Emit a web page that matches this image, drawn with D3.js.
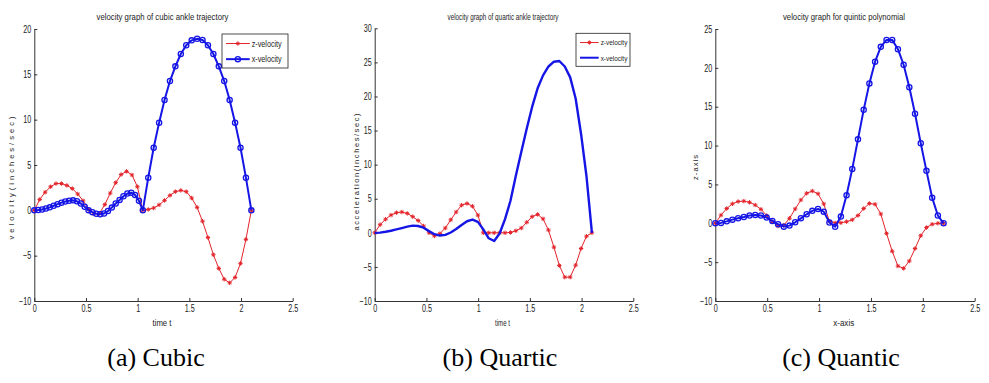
<!DOCTYPE html>
<html>
<head>
<meta charset="utf-8">
<script src="https://cdn.jsdelivr.net/npm/d3@7"></script>
<style>
  body { margin: 0; background: #fff; }
  svg { display: block; }
  .tick text { font-family: "Liberation Sans", sans-serif; font-size: 10px; fill: #222; }
  .lbl { font-family: "Liberation Sans", sans-serif; fill: #222; }
  .cap { font-family: "Liberation Serif", "Times New Roman", serif; font-size: 26px; fill: #000; }
</style>
</head>
<body>
<svg width="989" height="383"></svg>
<script>
"use strict";

// time grids
let tGrid21 = [0, 0.0525, 0.105, 0.1575, 0.21, 0.2625, 0.315, 0.3675, 0.42, 0.4725, 0.525, 0.5775, 0.63, 0.6825, 0.735, 0.7875, 0.84, 0.8925, 0.945, 0.9975, 1.05, 1.1025, 1.155, 1.2075, 1.26, 1.3125, 1.365, 1.4175, 1.47, 1.5225, 1.575, 1.6275, 1.68, 1.7325, 1.785, 1.8375, 1.89, 1.9425, 1.995, 2.0475, 2.1];
let tGrid22 = [0, 0.055, 0.11, 0.165, 0.22, 0.275, 0.33, 0.385, 0.44, 0.495, 0.55, 0.605, 0.66, 0.715, 0.77, 0.825, 0.88, 0.935, 0.99, 1.045, 1.1, 1.155, 1.21, 1.265, 1.32, 1.375, 1.43, 1.485, 1.54, 1.595, 1.65, 1.705, 1.76, 1.815, 1.87, 1.925, 1.98, 2.035, 2.09, 2.145, 2.2];
let tCubicX = [0, 0.0375, 0.075, 0.1125, 0.15, 0.1875, 0.225, 0.2625, 0.3, 0.3375, 0.375, 0.4125, 0.45, 0.4875, 0.525, 0.5625, 0.6, 0.6375, 0.675, 0.7125, 0.75, 0.7875, 0.825, 0.8625, 0.9, 0.9375, 0.975, 1.0125, 1.05, 1.1025, 1.155, 1.2075, 1.26, 1.3125, 1.365, 1.4175, 1.47, 1.5225, 1.575, 1.6275, 1.68, 1.7325, 1.785, 1.8375, 1.89, 1.9425, 1.995, 2.0475, 2.1];

// (a) cubic
let cubicZ = [0, 1.2, 2.0, 2.6, 2.95, 2.95, 2.75, 2.4, 1.8, 1.05, 0.1, -0.37, -0.33, 0.63, 1.9, 3.05, 3.95, 4.3, 3.9, 2.6, 0.0,
              0.1, 0.26, 0.6, 1.1, 1.65, 2.06, 2.2, 2.06, 1.36, 0.33, -1.2, -3.0, -4.9, -6.4, -7.6, -8.0, -7.4, -5.85, -3.2, 0];
let cubicX = [0, 0.04, 0.1, 0.2, 0.33, 0.5, 0.68, 0.85, 0.98, 1.06, 1.1, 1.0, 0.75, 0.4, 0.02, -0.2, -0.38, -0.44, -0.35, -0.08,
              0.3, 0.75, 1.15, 1.55, 1.85, 1.95, 1.7, 1.05, 0,
              3.6, 6.9, 9.67, 12.17, 14.26, 15.88, 17.24, 18.2, 18.75, 18.93, 18.79, 18.2, 17.24, 15.88, 14.26, 12.17, 9.67, 6.9, 3.6, 0];

// (b) quartic
let quarticZ = [0, 1.2, 2.0, 2.6, 2.95, 3.05, 2.85, 2.37, 1.8, 1.0, 0.0, -0.46, -0.12, 0.7, 1.9, 3.05, 4.06, 4.3, 3.9, 2.6, 0,
                0, 0, 0, 0, 0.05, 0.3, 0.7, 1.55, 2.37, 2.7, 2.05, 0.4, -2.1, -4.8, -6.5, -6.5, -4.75, -2.3, -0.5, 0];
let quarticX = [0, 0.03, 0.15, 0.3, 0.5, 0.7, 0.9, 1.05, 1.0, 0.75, 0.25, -0.2, -0.4, -0.3, 0.05, 0.55, 1.15, 1.7, 1.95, 1.6, 0.5,
                -0.8, -1.2, -0.1, 2.0, 4.7, 8.4, 11.9, 15.3, 18.5, 21.2, 23.1, 24.4, 25.1, 25.2, 24.4, 22.8, 19.7, 14.5, 8.3, 0];

// (c) quintic
let quinticZ = [0, 1.05, 1.9, 2.5, 2.8, 2.85, 2.7, 2.35, 1.8, 1.0, 0.2, -0.35, -0.25, 0.64, 1.85, 3.0, 3.86, 4.15, 3.8, 2.5, 0.25,
                0.05, 0.07, 0.2, 0.45, 1.0, 1.9, 2.55, 2.45, 1.2, -1.3, -3.6, -5.5, -5.8, -4.85, -3.25, -1.6, -0.55, -0.12, 0, 0];
let quinticX = [0, 0.05, 0.25, 0.47, 0.64, 0.8, 1.0, 1.07, 1.0, 0.73, 0.3, -0.13, -0.43, -0.3, 0.13, 0.64, 1.16, 1.6, 1.85, 1.5, 0.1,
                -0.45, 0.86, 3.6, 7.0, 10.8, 14.6, 18.0, 20.8, 22.7, 23.6, 23.6, 22.4, 20.4, 17.5, 14.1, 10.3, 6.75, 3.3, 1.0, 0];

let xTicks = [0, 0.5, 1, 1.5, 2, 2.5];
let yTicksA = [-10, -5, 0, 5, 10, 15, 20];
let yTicksB = [-10, -5, 0, 5, 10, 15, 20, 25, 30];
let yTicksC = [-10, -5, 0, 5, 10, 15, 20, 25];

let titles = ["velocity graph of cubic ankle trajectory", "velocity graph of quartic ankle trajectory", "velocity graph for quintic polynomial"];
let xLabels = ["time t", "time t", "x-axis"];
let yLabels = ["velocity(inches/sec)", "acceleration(inches/sec)", "z-axis"];
let captions = ["(a) Cubic", "(b) Quartic", "(c) Quantic"];
let legendNames = ["z-velocity", "x-velocity"];

let RED = "#e3242b", BLUE = "#1515e6";

let panels = [
    { l: 34.3, r: 292.7, t: 29, b: 301, yTicks: yTicksA, tz: tGrid21, z: cubicZ, tx: tCubicX, x: cubicX, circles: true,
      title: [162.5, 20, 132], xl: [162, 326, 19], yl: [11, 178, 123], cap: 156, legend: [222, 34, 66, 34, 9] },
    { l: 374.7, r: 633.3, t: 28.3, b: 301, yTicks: yTicksB, tz: tGrid21, z: quarticZ, tx: tGrid21, x: quarticX, circles: false,
      title: [503, 20, 111], xl: [502.5, 326, 15], yl: [356, 172, 117], cap: 500, legend: [576, 33.3, 54, 33, 8] },
    { l: 715.3, r: 974.7, t: 29, b: 301, yTicks: yTicksC, tz: tGrid22, z: quinticZ, tx: tGrid22, x: quinticX, circles: true,
      title: [844, 20, 122], xl: [843.7, 326, 21], yl: [695, 167.5, 25], cap: 841, legend: null }
];

let svg = d3.select("svg");
let star = "M-2.2,0H2.2M0,-2.2V2.2M-1.5,-1.5L1.5,1.5M-1.5,1.5L1.5,-1.5";

// squeeze the matlab-ish narrow labels
function narrow(sel, k) {
    sel.each(function () {
        let w = this.getComputedTextLength();
        d3.select(this).attr("textLength", w * k).attr("lengthAdjust", "spacingAndGlyphs");
    });
}

panels.forEach(function (p, k) {
    let g = svg.append("g");
    let x = d3.scaleLinear().domain([0, 2.5]).range([p.l, p.r]);
    let y = d3.scaleLinear().domain([p.yTicks[0], p.yTicks[p.yTicks.length - 1]]).range([p.b, p.t]);

    g.append("g").attr("transform", "translate(0," + p.b + ")")
        .call(d3.axisBottom(x).tickValues(xTicks).tickFormat(d3.format("")).tickSizeInner(-3).tickSizeOuter(0).tickPadding(4))
        .call(function (a) { a.select(".domain").attr("stroke", "#333"); a.selectAll("line").attr("stroke", "#333"); });
    g.append("g").attr("transform", "translate(" + p.l + ",0)")
        .call(d3.axisLeft(y).tickValues(p.yTicks).tickFormat(d3.format("")).tickSizeInner(-3).tickSizeOuter(0).tickPadding(3))
        .call(function (a) { a.select(".domain").attr("stroke", "#333"); a.selectAll("line").attr("stroke", "#333"); });
    g.selectAll(".tick text").attr("font-family", null).attr("font-size", null);
    narrow(g.selectAll(".tick text"), 0.72);

    let zData = p.tz.map(function (t, i) { return [t, p.z[i]]; });
    let xData = p.tx.map(function (t, i) { return [t, p.x[i]]; });
    let line = d3.line().x(function (d) { return x(d[0]); }).y(function (d) { return y(d[1]); });

    g.append("path").datum(zData).attr("d", line).attr("fill", "none").attr("stroke", RED).attr("stroke-width", 1);
    g.selectAll(".zm").data(zData).enter().append("path").attr("class", "zm")
        .attr("transform", function (d) { return "translate(" + x(d[0]) + "," + y(d[1]) + ")"; })
        .attr("d", star).attr("stroke", RED).attr("stroke-width", 1).attr("fill", "none");

    g.append("path").datum(xData).attr("d", line).attr("fill", "none").attr("stroke", BLUE)
        .attr("stroke-width", p.circles ? 2 : 2.4).attr("stroke-linejoin", "round");
    if (p.circles) {
        g.selectAll(".xm").data(xData).enter().append("circle").attr("class", "xm")
            .attr("cx", function (d) { return x(d[0]); }).attr("cy", function (d) { return y(d[1]); })
            .attr("r", 2.6).attr("fill", "none").attr("stroke", BLUE).attr("stroke-width", 1.3);
    }

    g.append("text").attr("class", "lbl").attr("x", p.title[0]).attr("y", p.title[1])
        .attr("text-anchor", "middle").attr("font-size", 8.5)
        .attr("textLength", p.title[2]).attr("lengthAdjust", "spacingAndGlyphs").text(titles[k]);
    g.append("text").attr("class", "lbl").attr("x", p.xl[0]).attr("y", p.xl[1])
        .attr("text-anchor", "middle").attr("font-size", 8.5)
        .attr("textLength", p.xl[2]).attr("lengthAdjust", "spacingAndGlyphs").text(xLabels[k]);
    g.append("text").attr("class", "lbl").attr("transform", "translate(" + p.yl[0] + "," + p.yl[1] + ") rotate(-90)")
        .attr("text-anchor", "middle").attr("dy", "0.35em").attr("font-size", 7.5)
        .attr("textLength", p.yl[2]).attr("lengthAdjust", "spacing").text(yLabels[k]);

    svg.append("text").attr("class", "cap").attr("x", p.cap).attr("y", 366)
        .attr("text-anchor", "middle").text(captions[k]);

    if (p.legend) {
        let L = p.legend;
        let lg = g.append("g").attr("transform", "translate(" + L[0] + "," + L[1] + ")");
        lg.append("rect").attr("width", L[2]).attr("height", L[3]).attr("fill", "#fff").attr("stroke", "#222").attr("stroke-width", 0.8);
        let rowY = [L[3] * 0.28, L[3] * 0.74];
        let lineEnd = L[2] * 0.42;
        lg.append("line").attr("x1", 4).attr("x2", lineEnd).attr("y1", rowY[0]).attr("y2", rowY[0]).attr("stroke", RED);
        lg.append("path").attr("transform", "translate(" + ((4 + lineEnd) / 2) + "," + rowY[0] + ")")
            .attr("d", star).attr("stroke", RED).attr("fill", "none");
        lg.append("line").attr("x1", 4).attr("x2", lineEnd).attr("y1", rowY[1]).attr("y2", rowY[1])
            .attr("stroke", BLUE).attr("stroke-width", 2);
        if (p.circles) {
            lg.append("circle").attr("cx", (4 + lineEnd) / 2).attr("cy", rowY[1]).attr("r", 2.6)
                .attr("fill", "none").attr("stroke", BLUE).attr("stroke-width", 1.3);
        }
        legendNames.forEach(function (n, i) {
            let t = lg.append("text").attr("class", "lbl").attr("x", lineEnd + 2).attr("y", rowY[i]).attr("dy", "0.35em")
                .attr("font-size", L[4]).text(n);
            narrow(t, 0.8);
        });
    }
});
</script>
</body>
</html>
